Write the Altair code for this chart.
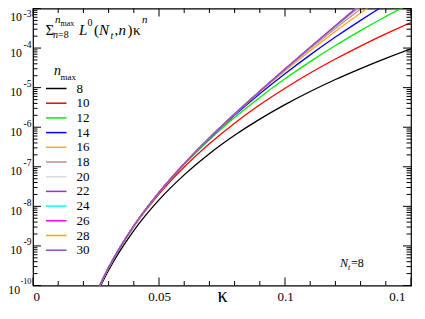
import altair as alt
import pandas as pd

FONT = "Liberation Serif, Times New Roman, serif"

kappa = [0.025, 0.03, 0.04, 0.05, 0.06, 0.07, 0.08, 0.09, 0.10, 0.11, 0.12, 0.13, 0.14, 0.15]

nmax_labels = ["8", "10", "12", "14", "16", "18", "20", "22", "24", "26", "28", "30"]

# log10 of the partial sums
log_n8 = [-10.246, -9.612, -8.612, -7.837, -7.204, -6.668, -6.204, -5.795, -5.429, -5.098, -4.795, -4.518, -4.260, -4.020]
log_n10 = [-10.205, -9.554, -8.513, -7.691, -7.006, -6.417, -5.898, -5.434, -5.014, -4.630, -4.276, -3.949, -3.643, -3.357]
log_n12 = [-10.202, -9.548, -8.497, -7.656, -6.944, -6.318, -5.757, -5.247, -4.777, -4.342, -3.936, -3.559, -3.203, -2.869]
log_n14 = [-10.202, -9.548, -8.495, -7.649, -6.927, -6.284, -5.699, -5.156, -4.649, -4.172, -3.722, -3.299, -2.898, -2.519]
log_n16 = [-10.202, -9.548, -8.494, -7.648, -6.923, -6.273, -5.675, -5.112, -4.577, -4.067, -3.578, -3.114, -2.669]
log_n18 = [-10.202, -9.548, -8.494, -7.648, -6.922, -6.271, -5.668, -5.097, -4.548, -4.018, -3.504, -3.010, -2.533]
log_n20 = [-10.202, -9.548, -8.494, -7.648, -6.922, -6.270, -5.666, -5.092, -4.537, -3.996, -3.467, -2.952, -2.450]
log_n22 = [-10.202, -9.548, -8.494, -7.648, -6.922, -6.270, -5.666, -5.091, -4.533, -3.987, -3.448, -2.920, -2.400]
log_n24 = [-10.202, -9.548, -8.494, -7.648, -6.922, -6.270, -5.666, -5.090, -4.531, -3.983, -3.440, -2.903, -2.371]
log_n26 = [-10.202, -9.548, -8.494, -7.648, -6.922, -6.270, -5.666, -5.090, -4.531, -3.981, -3.436, -2.895, -2.353]
log_n28 = [-10.202, -9.548, -8.494, -7.648, -6.922, -6.270, -5.666, -5.090, -4.531, -3.981, -3.435, -2.891, -2.344]
log_n30 = [-10.202, -9.548, -8.494, -7.648, -6.922, -6.270, -5.666, -5.090, -4.531, -3.981, -3.434, -2.890, -2.339]

colors = ["#000000", "#FF0000", "#00EE00", "#0000FF", "#FFA530", "#BC8F8F",
          "#DCDCDC", "#9A30D8", "#00FFFF", "#FF00FF", "#FFA500", "#8A4FD0"]

x_major = [0, 0.05, 0.1, 0.15]
x_minor = [0.01, 0.02, 0.03, 0.04, 0.06, 0.07, 0.08, 0.09, 0.11, 0.12, 0.13, 0.14]
y_major = [1e-10, 1e-9, 1e-8, 1e-7, 1e-6, 1e-5, 1e-4, 1e-3]
y_minor = [m * 10.0 ** e for e in range(-10, -3) for m in range(2, 10)]

all_logs = [log_n8, log_n10, log_n12, log_n14, log_n16, log_n18,
            log_n20, log_n22, log_n24, log_n26, log_n28, log_n30]
rows = []
for n, ys in zip(nmax_labels, all_logs):
    for k, ly in zip(kappa, ys):
        rows.append({"kappa": k, "S": 10.0 ** ly, "nmax": n})
df = pd.DataFrame(rows)
legend_df = pd.DataFrame({"nmax": nmax_labels})

W, H = 378, 277
x_scale = alt.Scale(domain=[0, 0.15], nice=False, zero=False)
y_scale = alt.Scale(type="log", domain=[1e-10, 1e-3], nice=False)
color_scale = alt.Scale(domain=nmax_labels, range=colors)

is_top = "datum.value > 5e-4"
is_bot = "datum.value < 5e-10"

lines = alt.Chart(df).mark_line(clip=True, strokeWidth=1.3, interpolate="monotone").encode(
    x=alt.X("kappa:Q", scale=x_scale, axis=alt.Axis(
        orient="bottom", values=x_major, ticks=False, tickSize=0, domain=False, grid=False,
        format="~g", labelFont=FONT, labelFontSize=13, labelColor="black", labelPadding=5,
        labelOffset={"condition": {"test": "datum.value > 0.14", "value": -6}, "value": 0},
        title="κ", titleFont=FONT, titleFontSize=20, titleFontWeight="normal", titleColor="black",
        titleBaseline="alphabetic", titleY=16)),
    y=alt.Y("S:Q", scale=y_scale, axis=alt.Axis(
        orient="left", values=y_major, ticks=False, tickSize=0, domain=False, grid=False,
        labelExpr="'10'", labelFont=FONT, labelFontSize=11.8, labelColor="black",
        labelPadding={"condition": {"test": is_bot, "value": 13.4}, "value": 11.5},
        labelOffset={"condition": {"test": is_top, "value": 8}, "value": 4},
        title=None)),
    color=alt.Color("nmax:N", scale=color_scale, legend=None),
)

exponents = alt.Chart(df).mark_line(opacity=0).encode(
    x=alt.X("kappa:Q", scale=x_scale, axis=None),
    y=alt.Y("S:Q", scale=y_scale, axis=alt.Axis(
        orient="left", values=y_major, ticks=False, tickSize=0, domain=False, grid=False,
        labelExpr="'' + round(log(datum.value)/LN10)", labelFont=FONT,
        labelFontSize={"condition": {"test": is_bot, "value": 8.3}, "value": 9.5},
        labelColor="black", labelPadding=2,
        labelOffset={"condition": {"test": is_top, "value": 4.8}, "value": -4},
        title=None)),
)


def x_ticks(values, y0, y1):
    return alt.Chart(pd.DataFrame({"v": values})).mark_rule(color="black", strokeWidth=1).encode(
        x=alt.X("v:Q", scale=x_scale, axis=None), y=alt.value(y0), y2=alt.value(y1))


def y_ticks(values, x0, x1):
    return alt.Chart(pd.DataFrame({"v": values})).mark_rule(color="black", strokeWidth=1).encode(
        y=alt.Y("v:Q", scale=y_scale, axis=None), x=alt.value(x0), x2=alt.value(x1))


tick_layers = [
    x_ticks(x_major, H, H - 8), x_ticks(x_minor, H, H - 4.5),
    x_ticks(x_major, 0, 8), x_ticks(x_minor, 0, 4.5),
    y_ticks(y_major, 0, 8), y_ticks(y_minor, 0, 4.5),
    y_ticks(y_major, W, W - 8), y_ticks(y_minor, W, W - 4.5),
]

# legend drawn from the n_max list
legend_y = alt.Y("nmax:O", sort=nmax_labels, axis=None,
                 scale=alt.Scale(type="point", range=[80, 241.7], padding=0))
legend_lines = alt.Chart(legend_df).mark_rule(strokeWidth=1.5).encode(
    y=legend_y, x=alt.value(13), x2=alt.value(33.5),
    color=alt.Color("nmax:N", scale=color_scale, legend=None))
legend_labels = alt.Chart(legend_df).mark_text(
    align="left", baseline="middle", font=FONT, fontSize=13, color="black").encode(
    y=legend_y, x=alt.value(43.5), text="nmax:N")

dummy = alt.Data(values=[{"a": 0}])


def txt(s, x, y, size, italic=False):
    return alt.Chart(dummy).mark_text(
        text=s, font=FONT, fontSize=size, fontStyle="italic" if italic else "normal",
        align="left", baseline="alphabetic", color="black"
    ).encode(x=alt.value(x), y=alt.value(y))


texts = [
    # Sigma_{n=8}^{n_max} L^0(N_t,n) kappa^n
    txt("Σ", 12.5, 26.5, 15),
    txt("n", 22, 14, 11, True),
    txt("max", 27.5, 17.5, 8),
    txt("n", 20, 29.5, 10, True),
    txt("=8", 25, 29.5, 10),
    txt("L", 46, 26.5, 15, True),
    txt("0", 54.5, 17, 10),
    txt("(", 61, 26.5, 15),
    txt("N", 66, 26.5, 15, True),
    txt("t", 77.5, 30, 10, True),
    txt(",", 81.5, 26.5, 15),
    txt("n", 85.5, 26.5, 15, True),
    txt(")", 94.5, 26.5, 15),
    txt("κ", 100, 26.5, 15),
    txt("n", 109, 14, 11, True),
    # legend title n_max
    txt("n", 21, 66, 14, True),
    txt("max", 27.5, 71, 9),
    # N_t=8
    txt("N", 307, 258, 12, True),
    txt("t", 315, 261, 8, True),
    txt("=8", 318, 258, 12),
]

chart = alt.layer(lines, exponents, *tick_layers, legend_lines, legend_labels, *texts).resolve_scale(
    y="independent"
).resolve_axis(
    x="independent", y="independent"
).properties(
    width=W, height=H,
    padding={"left": 25, "top": 0.5, "right": 6, "bottom": 21.5},
    autosize=alt.AutoSizeParams(type="none"),
).configure_view(stroke="black", strokeWidth=1.2)

chart.save("out.html", embed_options={"renderer": "svg", "actions": False})
